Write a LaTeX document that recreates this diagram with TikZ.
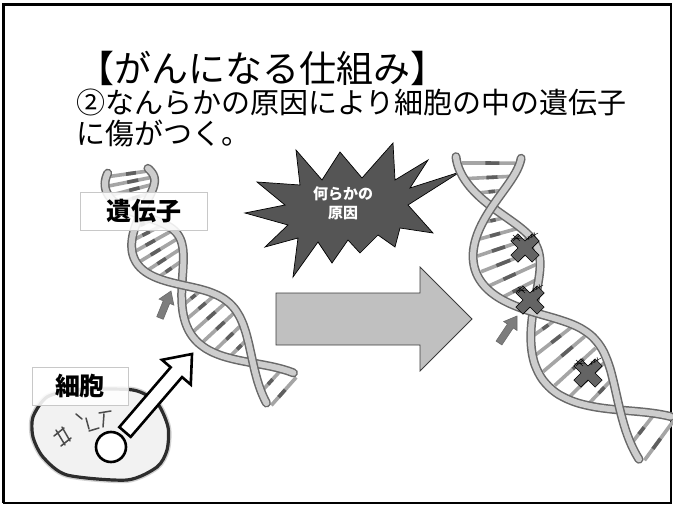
\documentclass[tikz,border=0pt]{standalone}
\usepackage{fontspec}
\newfontfamily\jpfont{Noto Sans CJK JP}
\usetikzlibrary{calc}

\definecolor{cEdge}{RGB}{105,105,105}
\definecolor{cStrand}{RGB}{205,205,205}
\definecolor{cRung}{RGB}{165,165,165}
\definecolor{cRungDark}{RGB}{95,95,95}
\definecolor{cBurst}{RGB}{85,85,85}
\definecolor{cBig}{RGB}{192,192,192}
\definecolor{cBigEdge}{RGB}{60,60,60}
\definecolor{cMark}{RGB}{100,100,100}
\definecolor{cSmallArrow}{RGB}{125,125,125}
\definecolor{cCell}{RGB}{242,242,242}
\definecolor{cCellEdge}{RGB}{45,45,45}
\definecolor{cLabelEdge}{RGB}{200,200,200}

\tikzset{
  headline/.style={anchor=west, inner sep=0pt, font=\jpfont\fontsize{37}{39}\selectfont},
  bodyline/.style={anchor=west, inner sep=0pt, font=\jpfont\fontsize{29}{31}\selectfont},
  labelbox/.style={draw=cLabelEdge, line width=0.6pt, fill=white, fill opacity=0.88,
    text opacity=1, inner sep=0pt, font=\jpfont\bfseries\fontsize{25}{27}\selectfont},
  strandout/.style={draw=cEdge, line width=9pt, line cap=round},
  strandin/.style={draw=cStrand, line width=6pt, line cap=round},
  rungline/.style={draw=cRung, line width=3.6pt},
  rungmid/.style={draw=cRungDark, line width=3.6pt},
  burst/.style={fill=cBurst, draw=black, line width=0.7pt},
  bigarrow/.style={fill=cBig, draw=cBigEdge, line width=0.8pt},
  smallarrow/.style={fill=cSmallArrow, draw=cEdge, line width=0.6pt},
  hollowarrow/.style={fill=white, draw=black, line width=2.6pt, line join=miter},
  crossmark/.style={fill=cMark, draw=black, line width=0.6pt},
  scribble/.style={draw=black, line width=0.45pt},
  facestroke/.style={draw=cCellEdge!85, line width=1.5pt, line cap=round},
}

% Double helix whose strands cross at three given points (t = 0, 1, 2);
% #7..#8 parameter range, #9 half width of the helix.
\newcommand{\dnahelix}[9]{%
  \pgfmathsetmacro{\hCx}{(#5-2*#3+#1)/2}%
  \pgfmathsetmacro{\hCy}{(#6-2*#4+#2)/2}%
  \pgfmathsetmacro{\hBx}{#3-#1-\hCx}%
  \pgfmathsetmacro{\hBy}{#4-#2-\hCy}%
  \pgfmathtruncatemacro{\hN}{(#8-(#7))/0.13}%
  \foreach \k in {0,...,\hN}{%
    \pgfmathsetmacro{\hT}{#7+0.13*\k+0.05}%
    \pgfmathsetmacro{\hPx}{#1+(\hBx)*\hT+(\hCx)*\hT*\hT}%
    \pgfmathsetmacro{\hPy}{#2+(\hBy)*\hT+(\hCy)*\hT*\hT}%
    \pgfmathsetmacro{\hDx}{\hBx+2*(\hCx)*\hT}%
    \pgfmathsetmacro{\hDy}{\hBy+2*(\hCy)*\hT}%
    \pgfmathsetmacro{\hL}{veclen(\hDx,\hDy)}%
    \pgfmathsetmacro{\hS}{#9*sin(180*\hT)}%
    \pgfmathsetmacro{\hNx}{-(\hDy)/\hL*(\hS)}%
    \pgfmathsetmacro{\hNy}{(\hDx)/\hL*(\hS)}%
    \pgfmathtruncatemacro{\hOk}{abs(sin(180*\hT))>0.35}%
    \ifnum\hOk=1
      \draw[rungline] (\hPx+0.85*\hNx, \hPy+0.85*\hNy) -- (\hPx-0.85*\hNx, \hPy-0.85*\hNy);
      \draw[rungmid] (\hPx+0.35*\hNx, \hPy+0.35*\hNy) -- (\hPx-0.1*\hNx, \hPy-0.1*\hNy);
    \fi
  }%
  \foreach \sg in {-1,1}{%
    \draw[strandout] plot[domain=#7:#8, samples=90, smooth, variable=\hv]
      ({#1+(\hBx)*\hv+(\hCx)*\hv*\hv - \sg*#9*sin(180*\hv)*(\hBy+2*(\hCy)*\hv)/veclen(\hBx+2*(\hCx)*\hv,\hBy+2*(\hCy)*\hv)},
       {#2+(\hBy)*\hv+(\hCy)*\hv*\hv + \sg*#9*sin(180*\hv)*(\hBx+2*(\hCx)*\hv)/veclen(\hBx+2*(\hCx)*\hv,\hBy+2*(\hCy)*\hv)});
    \draw[strandin] plot[domain=#7:#8, samples=90, smooth, variable=\hv]
      ({#1+(\hBx)*\hv+(\hCx)*\hv*\hv - \sg*#9*sin(180*\hv)*(\hBy+2*(\hCy)*\hv)/veclen(\hBx+2*(\hCx)*\hv,\hBy+2*(\hCy)*\hv)},
       {#2+(\hBy)*\hv+(\hCy)*\hv*\hv + \sg*#9*sin(180*\hv)*(\hBx+2*(\hCx)*\hv)/veclen(\hBx+2*(\hCx)*\hv,\hBy+2*(\hCy)*\hv)});
  }%
}

% Block arrow from #1 to #2: shaft half width #3, head half width #4, head length #5
\newcommand{\blockarrow}[6]{%
  \path ($#2!#5!#1$) coordinate (ba-base);
  \filldraw[#6] ($#1!#3!90:#2$) -- ($(ba-base)!#3!90:#2$) -- ($(ba-base)!#4!90:#2$)
    -- #2 -- ($(ba-base)!#4!-90:#2$) -- ($(ba-base)!#3!-90:#2$) -- ($#1!#3!-90:#2$) -- cycle;
}

% Damage mark: a grey cross with small pen scribbles
\newcommand{\damagemark}[2]{%
  \begin{scope}[shift={(#1,#2)}]
    \begin{scope}[rotate=45]
      \filldraw[crossmark] (-5,-15) -- (5,-15) -- (5,-5) -- (15,-5) -- (15,5)
        -- (5,5) -- (5,15) -- (-5,15) -- (-5,5) -- (-15,5) -- (-15,-5)
        -- (-5,-5) -- cycle;
    \end{scope}
    \draw[scribble] (-12,-13) -- (-5,-7) (-12,-7) -- (-5,-13) (-14,-9) -- (-3,-10);
    \draw[scribble] (1,-8) -- (13,-15) (4,-8) -- (3,-12) (7,-10) -- (6,-14) (10,-12) -- (9,-16);
  \end{scope}
}

\begin{document}
\begin{tikzpicture}[x=1pt, y=-1pt]
\useasboundingbox (0,0) rectangle (673,506);
\fill[white] (0,0) rectangle (673,506);

% slide frame
\draw[line width=1.2pt] (3.5,4) rectangle (671,503);
\draw[line width=3pt] (3.5,503) -- (3.5,4) -- (671,4);

% heading text
\node[headline] (title) at (77,68) {【がんになる仕組み】};
\node[bodyline] (line1) at (76,102) {②なんらかの原因により細胞の中の遺伝子};
\node[bodyline] (line2) at (76,133) {に傷がつく。};

% explosion with its caption
\filldraw[burst] (245,213) -- (285,205) -- (257,182) -- (300,185) -- (296,150) -- (322,180)
  -- (340,152) -- (362,178) -- (393,143) -- (395,180) -- (428,160) -- (410,188) -- (460,172)
  -- (408,205) -- (433,233) -- (400,228) -- (395,247) -- (378,235) -- (360,253) -- (348,240)
  -- (332,263) -- (318,242) -- (293,277) -- (298,238) -- (265,247) -- (288,225) -- cycle;
\node[text=white, align=center, inner sep=0pt,
  font=\jpfont\bfseries\fontsize{15}{19}\selectfont] (cause) at (343,203) {何らかの\\原因};

% big grey arrow between the two states
\filldraw[bigarrow] (276,293) -- (420,293) -- (420,267) -- (472,319) -- (420,371)
  -- (420,345) -- (276,345) -- cycle;

% healthy gene (left) and damaged gene (right)
\dnahelix{140}{215}{182}{285}{253}{363}{-0.7}{2.3}{25}
\dnahelix{492}{207}{533}{312}{620}{410}{-0.45}{2.3}{33}

% damage marks on the right helix
\damagemark{525}{248}
\damagemark{530}{300}
\damagemark{588}{373}

% small pointer arrows at the helices
\coordinate (pl-tail) at (160,318);
\coordinate (pl-tip) at (171,291);
\blockarrow{(pl-tail)}{(pl-tip)}{3.5pt}{8pt}{12pt}{smallarrow}
\coordinate (pr-tail) at (499,343);
\coordinate (pr-tip) at (517,316);
\blockarrow{(pr-tail)}{(pr-tip)}{3.5pt}{8pt}{12pt}{smallarrow}

% the cell
\draw[draw=gray!70, line width=6pt, opacity=0.5] plot[smooth cycle, tension=0.45] coordinates
  {(33,417) (47,397) (77,390) (133,390) (157,403) (168,427) (167,450) (157,467) (127,480)
   (67,475) (43,457) (33,437)};
\filldraw[fill=cCell, draw=cCellEdge, line width=3.2pt] plot[smooth cycle, tension=0.45] coordinates
  {(33,417) (47,397) (77,390) (133,390) (157,403) (168,427) (167,450) (157,467) (127,480)
   (67,475) (43,457) (33,437)};
% face drawn on the cell
\draw[facestroke] (54,436) -- (64,428) (61,446) -- (71,438) (56,430) -- (65,445) (62,427) -- (70,441);
\draw[facestroke] (76,414) -- (82,419) (86,418) -- (89,429) (99,413) -- (111,411)
  (104,414) -- (103,427) (89,431) -- (99,428);

% labels
\node[labelbox, minimum width=127pt, minimum height=38pt] (genelabel) at (143.5,211) {遺伝子};
\node[labelbox, minimum width=96pt, minimum height=38pt] (celllabel) at (80,386) {細胞};

% nucleus and the hollow arrow pointing at the gene
\coordinate (target) at (192,354);
\coordinate (htail) at (125,432);
\blockarrow{(htail)}{(target)}{7.5pt}{19pt}{24pt}{hollowarrow}
\node[circle, draw=black, fill=white, line width=2.6pt, minimum size=30pt, inner sep=0pt]
  (nucleus) at (111,447) {};
\end{tikzpicture}
\end{document}
